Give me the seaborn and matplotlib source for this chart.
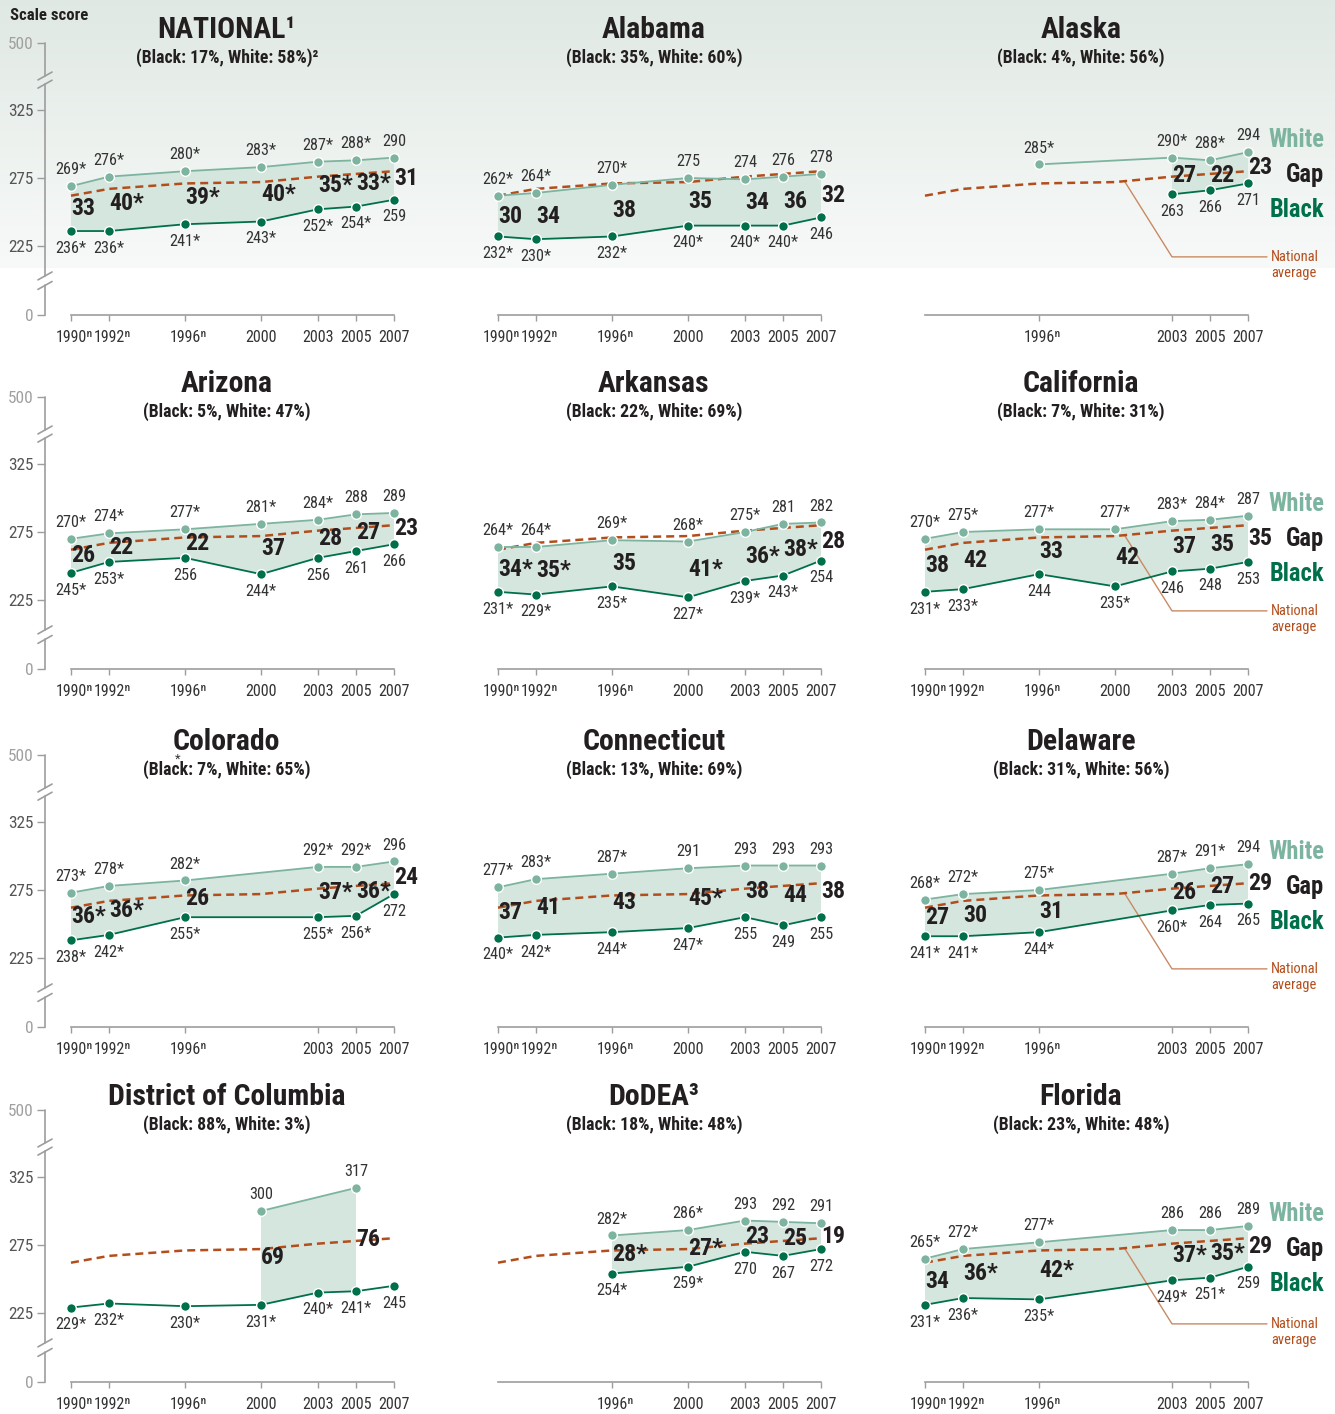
import numpy as np
import pandas as pd
import matplotlib.pyplot as plt
import seaborn as sns
from matplotlib import font_manager
from matplotlib.font_manager import FontProperties
from matplotlib.textpath import TextToPath
from matplotlib.transforms import ScaledTranslation

# ------------------------------
# Data
# ------------------------------
years = [1990, 1992, 1996, 2000, 2003, 2005, 2007]
year_labels = ["1990ⁿ", "1992ⁿ", "1996ⁿ", "2000", "2003", "2005", "2007"]
national_avg = [262, 267, 271, 272, 276, 278, 280]

nat_white = ["269*", "276*", "280*", "283*", "287*", "288*", "290"]
nat_black = ["236*", "236*", "241*", "243*", "252*", "254*", "259"]
nat_gap = ["33", "40*", "39*", "40*", "35*", "33*", "31"]

al_white = ["262*", "264*", "270*", "275", "274", "276", "278"]
al_black = ["232*", "230*", "232*", "240*", "240*", "240*", "246"]
al_gap = ["30", "34", "38", "35", "34", "36", "32"]

ak_white = [None, None, "285*", None, "290*", "288*", "294"]
ak_black = [None, None, None, None, "263", "266", "271"]
ak_gap = [None, None, None, None, "27", "22", "23"]

az_white = ["270*", "274*", "277*", "281*", "284*", "288", "289"]
az_black = ["245*", "253*", "256", "244*", "256", "261", "266"]
az_gap = ["26", "22", "22", "37", "28", "27", "23"]

ar_white = ["264*", "264*", "269*", "268*", "275*", "281", "282"]
ar_black = ["231*", "229*", "235*", "227*", "239*", "243*", "254"]
ar_gap = ["34*", "35*", "35", "41*", "36*", "38*", "28"]

ca_white = ["270*", "275*", "277*", "277*", "283*", "284*", "287"]
ca_black = ["231*", "233*", "244", "235*", "246", "248", "253"]
ca_gap = ["38", "42", "33", "42", "37", "35", "35"]

co_white = ["273*", "278*", "282*", None, "292*", "292*", "296"]
co_black = ["238*", "242*", "255*", None, "255*", "256*", "272"]
co_gap = ["36*", "36*", "26", None, "37*", "36*", "24"]

ct_white = ["277*", "283*", "287*", "291", "293", "293", "293"]
ct_black = ["240*", "242*", "244*", "247*", "255", "249", "255"]
ct_gap = ["37", "41", "43", "45*", "38", "44", "38"]

de_white = ["268*", "272*", "275*", None, "287*", "291*", "294"]
de_black = ["241*", "241*", "244*", None, "260*", "264", "265"]
de_gap = ["27", "30", "31", None, "26", "27", "29"]

dc_white = [None, None, None, "300", None, "317", None]
dc_black = ["229*", "232*", "230*", "231*", "240*", "241*", "245"]
dc_gap = [None, None, None, "69", None, "76", None]

dd_white = [None, None, "282*", "286*", "293", "292", "291"]
dd_black = [None, None, "254*", "259*", "270", "267", "272"]
dd_gap = [None, None, "28*", "27*", "23", "25", "19"]

fl_white = ["265*", "272*", "277*", None, "286", "286", "289"]
fl_black = ["231*", "236*", "235*", None, "249*", "251*", "259"]
fl_gap = ["34", "36*", "42*", None, "37*", "35*", "29"]

titles = ["NATIONAL¹", "Alabama", "Alaska", "Arizona", "Arkansas", "California",
          "Colorado", "Connecticut", "Delaware", "District of Columbia", "DoDEA³", "Florida"]
subtitles = ["(Black: 17%, White: 58%)²", "(Black: 35%, White: 60%)", "(Black: 4%, White: 56%)",
             "(Black: 5%, White: 47%)", "(Black: 22%, White: 69%)", "(Black: 7%, White: 31%)",
             "(Black: 7%, White: 65%)", "(Black: 13%, White: 69%)", "(Black: 31%, White: 56%)",
             "(Black: 88%, White: 3%)", "(Black: 18%, White: 48%)", "(Black: 23%, White: 48%)"]
whites = [nat_white, al_white, ak_white, az_white, ar_white, ca_white,
          co_white, ct_white, de_white, dc_white, dd_white, fl_white]
blacks = [nat_black, al_black, ak_black, az_black, ar_black, ca_black,
          co_black, ct_black, de_black, dc_black, dd_black, fl_black]
gaps = [nat_gap, al_gap, ak_gap, az_gap, ar_gap, ca_gap,
        co_gap, ct_gap, de_gap, dc_gap, dd_gap, fl_gap]

# ------------------------------
# Style
# ------------------------------
C_WHITE = "#7db4a0"
C_BLACK = "#00704a"
C_FILL = "#d5e6de"
C_NAT = "#b34e1c"
C_LEAD = "#c98a63"
C_TEXT = "#333333"
C_DARK = "#231f20"
C_AXIS = "#9d9d9d"

sns.set_theme(style="white")


# pick a condensed face (needs regular + bold), else DejaVu condensed
def _w(v):
    return v if isinstance(v, int) else font_manager.weight_dict.get(v, 400)


FONT = None
for name in ["Roboto Condensed", "PT Sans Narrow", "Archivo Narrow",
             "Fira Sans Condensed", "IBM Plex Sans Condensed", "Liberation Sans Narrow"]:
    ws = {_w(f.weight) for f in font_manager.fontManager.ttflist
          if f.name == name and f.style == "normal"}
    if 400 in ws and 700 in ws:
        FONT = name
        break
if FONT:
    plt.rcParams["font.family"] = [FONT, "DejaVu Sans"]
else:
    plt.rcParams["font.family"] = ["DejaVu Sans"]
    plt.rcParams["font.stretch"] = "condensed"

_ttp = TextToPath()


def fit(sample, target_px, weight="normal"):
    # font size (pt) that gives the sample the ink width seen in the reference
    fp = FontProperties(family=plt.rcParams["font.family"], size=10, weight=weight,
                        stretch=plt.rcParams["font.stretch"])
    w, _, _ = _ttp.get_text_width_height_descent(sample, fp, ismath=False)
    return 10 * target_px * 0.72 / w


FS_TICK = fit("2003", 31.5)
FS_YTICK = fit("325", 25.5)
FS_VAL = fit("275", 24)
FS_GAP = fit("35", 24, "bold")
FS_TITLE = fit("Alabama", 104, "bold")
FS_SUB = fit("(Black: 35%, White: 60%)", 176, "bold")
FS_LEG = fit("White", 56, "bold")
FS_NAT = fit("National", 48)
FS_SCALE = fit("Scale score", 78, "bold")

W, H = 1335, 1414
PX_YR = 19.0          # pixels per year
PX_U = 1.36           # pixels per score point
X0, X1 = 1986.5, 2009.0
Y0, Y1 = 150.0, 400.0
P500 = 374.3          # where "500" sits on the broken axis
P0 = 174.3            # where "0" sits
row_y275 = [178, 532, 890, 1245]
col_x1990 = [71, 498, 925]
YAXIS_X = 1990 - 26 / PX_YR

fig = plt.figure(figsize=(W / 100, H / 100), dpi=100)

# green gradient band behind the top row
bg = fig.add_axes([0, 1 - 268 / H, 1, 268 / H], zorder=-5)
top_c = np.array([0.878, 0.912, 0.893])
bot_c = np.array([0.972, 0.979, 0.975])
grad = np.linspace(0, 1, 256)[:, None, None]
bg.imshow(top_c + (bot_c - top_c) * grad, aspect="auto", extent=[0, 1, 0, 1])
bg.axis("off")

fig.text(10 / W, 1 - 15 / H, "Scale score", fontsize=FS_SCALE, fontweight="bold",
         color=C_DARK, va="center", ha="left")

# half the superscript width, so the digits sit centred on their tick
_sup_w, _, _ = _ttp.get_text_width_height_descent(
    "ⁿ", FontProperties(family=plt.rcParams["font.family"], size=FS_TICK), ismath=False)


def to_num(lst):
    return [float(s.rstrip("*")) if s else np.nan for s in lst]


for i in range(12):
    row, col = divmod(i, 3)
    left = (col_x1990[col] - (1990 - X0) * PX_YR) / W
    bottom = 1 - (row_y275[row] + (275 - Y0) * PX_U) / H
    ax = fig.add_axes([left, bottom, (X1 - X0) * PX_YR / W, (Y1 - Y0) * PX_U / H])
    ax.set_facecolor("none")

    wv = to_num(whites[i])
    bv = to_num(blacks[i])

    # fill the gap region where both groups exist
    both = [k for k in range(7) if not np.isnan(wv[k]) and not np.isnan(bv[k])]
    a, b = years[both[0]], years[both[-1]]
    top_pts = [(years[k], wv[k]) for k in range(7) if a <= years[k] <= b and not np.isnan(wv[k])]
    bot_pts = [(years[k], bv[k]) for k in range(7) if a <= years[k] <= b and not np.isnan(bv[k])]
    poly = top_pts + bot_pts[::-1]
    ax.fill([p[0] for p in poly], [p[1] for p in poly], color=C_FILL, lw=0, zorder=1)

    df = pd.DataFrame({"year": years * 2, "score": wv + bv,
                       "group": ["White"] * 7 + ["Black"] * 7})
    sns.lineplot(data=df, x="year", y="score", hue="group",
                 palette={"White": C_WHITE, "Black": C_BLACK},
                 marker="o", markersize=7, markeredgecolor="white", markeredgewidth=1,
                 linewidth=1.3, errorbar=None, legend=False, ax=ax, zorder=3)
    sns.lineplot(x=years, y=national_avg, color=C_NAT, linewidth=1.8,
                 linestyle=(0, (3.2, 2.0)), errorbar=None, legend=False, ax=ax, zorder=2.5)

    # value labels
    for k in range(7):
        if whites[i][k]:
            ax.annotate(whites[i][k], (years[k], wv[k]), xytext=(0, 11.8),
                        textcoords="offset points", ha="center", va="center",
                        fontsize=FS_VAL, color=C_TEXT, zorder=6)
        if blacks[i][k]:
            ax.annotate(blacks[i][k], (years[k], bv[k]), xytext=(0, -12.4),
                        textcoords="offset points", ha="center", va="center",
                        fontsize=FS_VAL, color=C_TEXT, zorder=6)
        if gaps[i][k]:
            ax.text(years[k], (wv[k] + bv[k]) / 2, gaps[i][k], ha="left", va="center",
                    fontsize=FS_GAP, fontweight="bold", color=C_DARK, zorder=6)

    # titles
    ax.text(1998.2, 384, titles[i], ha="center", va="center", fontsize=FS_TITLE,
            fontweight="bold", color=C_DARK)
    ax.text(1998.2, 363.5, subtitles[i], ha="center", va="center", fontsize=FS_SUB,
            fontweight="bold", color=C_DARK)
    if titles[i] == "Colorado":
        ax.text(1995.6, 371.5, "*", ha="center", va="center", fontsize=FS_VAL * 0.8,
                color=C_TEXT)

    # x axis
    tick_idx = [k for k in range(7) if not (np.isnan(wv[k]) and np.isnan(bv[k]))]
    ax.set_xticks([years[k] for k in tick_idx], [year_labels[k] for k in tick_idx])
    ax.spines["bottom"].set_position(("data", P0))
    ax.spines["bottom"].set_bounds(1990, 2007)
    ax.spines["bottom"].set_color(C_AXIS)
    ax.spines["bottom"].set_linewidth(1.2)
    ax.tick_params(axis="x", direction="out", length=4.5, width=1, color=C_AXIS,
                   pad=6, labelsize=FS_TICK, labelcolor=C_TEXT, bottom=True)
    for lab in ax.get_xticklabels():
        if lab.get_text().endswith("ⁿ"):
            lab.set_transform(lab.get_transform() +
                              ScaledTranslation(_sup_w / 2 / 72, 0, fig.dpi_scale_trans))
    for s in ["top", "right", "left"]:
        ax.spines[s].set_visible(False)

    # broken y axis on the left column only
    if col == 0:
        ax.spines["left"].set_position(("data", YAXIS_X))
        ax.set_yticks([P0, 225, 275, 325, P500], ["0", "225", "275", "325", "500"])
        ax.tick_params(axis="y", direction="out", length=6, width=1, color=C_AXIS,
                       pad=2.5, labelsize=FS_YTICK, left=True)
        for lab, c in zip(ax.get_yticklabels(), ["#a0a0a0", "#555555", "#555555", "#555555", "#a0a0a0"]):
            lab.set_color(c)
        for y_a, y_b in [(P500, 350), (344, 203), (196, P0)]:
            ax.plot([YAXIS_X, YAXIS_X], [y_a, y_b], color=C_AXIS, lw=1.2, clip_on=False)
        for y_s in [350, 344, 203, 196]:
            ax.plot([YAXIS_X - 0.37, YAXIS_X + 0.37], [y_s - 2.9, y_s + 2.9],
                    color=C_AXIS, lw=1.2, clip_on=False)
    else:
        ax.set_yticks([])

    # legend words and national average callout on the right column
    if col == 2:
        for word, dy, c in [("White", 8.6, C_WHITE), ("Gap", -16.6, C_DARK), ("Black", -41.8, C_BLACK)]:
            ax.annotate(word, (2011, wv[6]), xytext=(0, dy), textcoords="offset points",
                        ha="right", va="center", fontsize=FS_LEG, fontweight="bold", color=c,
                        annotation_clip=False)
        y_start = np.interp(2000.5, years, national_avg)
        ax.plot([2000.5, 2003, 2008], [y_start, 217, 217], color=C_LEAD, lw=1,
                clip_on=False, zorder=2)
        ax.text(2008.2, 217, "National", ha="left", va="center", fontsize=FS_NAT, color=C_NAT)
        ax.text(2008.2, 217 - 16 / PX_U, "average", ha="left", va="center",
                fontsize=FS_NAT, color=C_NAT)

    ax.set_xlim(X0, X1)
    ax.set_ylim(Y0, Y1)
    ax.set_xlabel("")
    ax.set_ylabel("")

fig.savefig("out.png", dpi=100)
